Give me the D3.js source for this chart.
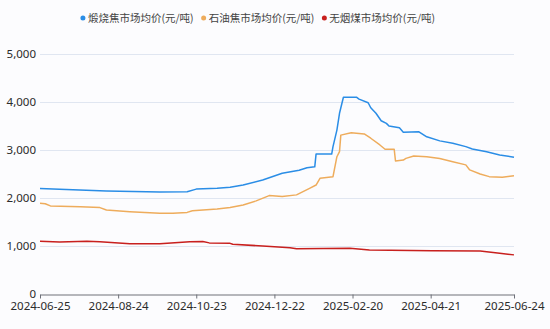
<!DOCTYPE html>
<html>
<head>
<meta charset="utf-8">
<script src="https://cdn.jsdelivr.net/npm/d3@7"></script>
<style>
  html, body { margin: 0; padding: 0; background: #fcfcfe; }
  svg { display: block; font-family: "Noto Sans", "Noto Sans CJK SC", sans-serif; }
</style>
</head>
<body>
<div id="container"></div>
<script>
// series names
const seriesNames = ["煅烧焦市场均价(元/吨)", "石油焦市场均价(元/吨)", "无烟煤市场均价(元/吨)"];
const seriesColors = ["#2a8de6", "#eeac5c", "#c8201e"];

// 煅烧焦 (calcined coke)
const calcinedData = [
  ["2024-06-25", 2200], ["2024-07-10", 2180], ["2024-08-15", 2145], ["2024-09-25", 2125],
  ["2024-10-16", 2130], ["2024-10-23", 2185], ["2024-11-08", 2205], ["2024-11-18", 2225],
  ["2024-11-28", 2270], ["2024-12-13", 2375], ["2024-12-28", 2515], ["2025-01-10", 2580],
  ["2025-01-16", 2630], ["2025-01-22", 2650], ["2025-01-23", 2915], ["2025-02-04", 2915],
  ["2025-02-05", 3070], ["2025-02-08", 3415], ["2025-02-10", 3765], ["2025-02-13", 4100],
  ["2025-02-23", 4100], ["2025-02-25", 4060], ["2025-03-04", 3985], ["2025-03-06", 3880],
  ["2025-03-10", 3765], ["2025-03-14", 3610], ["2025-03-18", 3555], ["2025-03-20", 3500],
  ["2025-03-28", 3465], ["2025-03-31", 3370], ["2025-04-12", 3380], ["2025-04-18", 3275],
  ["2025-04-28", 3190], ["2025-05-08", 3140], ["2025-05-18", 3070], ["2025-05-23", 3020],
  ["2025-06-03", 2965], ["2025-06-13", 2895], ["2025-06-24", 2850]
];

// 石油焦 (petroleum coke)
const petroleumData = [
  ["2024-06-25", 1890], ["2024-06-29", 1880], ["2024-07-03", 1835], ["2024-07-26", 1820],
  ["2024-08-10", 1800], ["2024-08-15", 1750], ["2024-09-02", 1715], ["2024-09-25", 1680],
  ["2024-10-05", 1680], ["2024-10-16", 1700], ["2024-10-20", 1735], ["2024-11-08", 1770],
  ["2024-11-18", 1800], ["2024-11-28", 1855], ["2024-12-08", 1940], ["2024-12-18", 2050],
  ["2024-12-28", 2030], ["2025-01-08", 2065], ["2025-01-18", 2200], ["2025-01-23", 2270],
  ["2025-01-26", 2410], ["2025-02-05", 2445], ["2025-02-08", 2860], ["2025-02-10", 2965],
  ["2025-02-11", 3310], ["2025-02-19", 3360], ["2025-03-01", 3335], ["2025-03-06", 3245],
  ["2025-03-13", 3105], ["2025-03-17", 3015], ["2025-03-24", 3015], ["2025-03-25", 2770],
  ["2025-03-31", 2790], ["2025-04-02", 2825], ["2025-04-08", 2875], ["2025-04-18", 2860],
  ["2025-04-28", 2825], ["2025-05-08", 2755], ["2025-05-18", 2690], ["2025-05-21", 2585],
  ["2025-05-29", 2500], ["2025-06-05", 2445], ["2025-06-15", 2430], ["2025-06-24", 2465]
];

// 无烟煤 (anthracite)
const anthraciteData = [
  ["2024-06-25", 1100], ["2024-07-10", 1085], ["2024-07-31", 1100], ["2024-08-10", 1090],
  ["2024-09-02", 1045], ["2024-09-25", 1045], ["2024-10-18", 1090], ["2024-10-28", 1095],
  ["2024-11-02", 1065], ["2024-11-18", 1055], ["2024-11-20", 1035], ["2024-12-13", 1000],
  ["2025-01-03", 965], ["2025-01-08", 945], ["2025-02-18", 955], ["2025-03-05", 915],
  ["2025-04-22", 900], ["2025-05-29", 895], ["2025-06-13", 850], ["2025-06-24", 815]
];

const xTickLabels = ["2024-06-25", "2024-08-24", "2024-10-23", "2024-12-22", "2025-02-20", "2025-04-21", "2025-06-24"];
const yTicks = [0, 1000, 2000, 3000, 4000, 5000];

const allSeries = [calcinedData, petroleumData, anthraciteData];

const width = 550, height = 329;
const margin = { top: 54, right: 36, bottom: 35, left: 40 };

const parse = d3.timeParse("%Y-%m-%d");

const svg = d3.select("#container").append("svg")
  .attr("width", width)
  .attr("height", height);

svg.append("rect").attr("width", width).attr("height", height).attr("fill", "#fcfcfe");

const x = d3.scaleTime()
  .domain([parse(xTickLabels[0]), parse(xTickLabels[xTickLabels.length - 1])])
  .range([margin.left, width - margin.right]);

const y = d3.scaleLinear()
  .domain([0, 5000])
  .range([height - margin.bottom, margin.top]);

// grid lines
svg.append("g")
  .selectAll("line")
  .data(yTicks.slice(1))
  .join("line")
  .attr("x1", margin.left)
  .attr("x2", width - margin.right)
  .attr("y1", d => y(d) + 0.5)
  .attr("y2", d => y(d) + 0.5)
  .attr("stroke", "#e0e6f1");

// y axis labels
svg.append("g")
  .attr("transform", `translate(${margin.left - 4},0)`)
  .call(d3.axisLeft(y).tickValues(yTicks).tickSize(0).tickPadding(0).tickFormat(d3.format(",")))
  .call(g => g.select(".domain").remove())
  .selectAll("text")
  .attr("font-size", 11.5)
  .attr("font-family", "Noto Sans, sans-serif")
  .attr("fill", "#2b2b2b");

// x axis
svg.append("g")
  .attr("transform", `translate(0,${y(0) + 0.5})`)
  .call(d3.axisBottom(x)
    .tickValues(xTickLabels.map(parse))
    .tickFormat(d3.timeFormat("%Y-%m-%d"))
    .tickSize(4)
    .tickSizeOuter(0)
    .tickPadding(3))
  .call(g => g.select(".domain").attr("stroke", "#6e7079"))
  .call(g => g.selectAll(".tick line").attr("stroke", "#6e7079"))
  .selectAll("text")
  .attr("font-size", 11.5)
  .attr("font-family", "Noto Sans, sans-serif")
  .attr("fill", "#2b2b2b");

// lines
const line = d3.line()
  .x(d => x(parse(d[0])))
  .y(d => y(d[1]));

svg.append("g")
  .selectAll("path")
  .data(allSeries)
  .join("path")
  .attr("d", line)
  .attr("fill", "none")
  .attr("stroke", (d, i) => seriesColors[i])
  .attr("stroke-width", 1.5)
  .attr("stroke-linejoin", "round");

// legend
const legend = svg.append("g").attr("transform", "translate(0,18)");
const items = legend.selectAll("g")
  .data(seriesNames)
  .join("g");

items.append("circle")
  .attr("r", 2.5)
  .attr("cy", 0)
  .attr("fill", (d, i) => seriesColors[i]);

items.append("text")
  .attr("x", 5)
  .attr("dy", "0.35em")
  .attr("font-size", 10.5)
  .attr("font-family", "Noto Sans CJK SC, sans-serif")
  .attr("fill", "#444")
  .text(d => d);

// lay out legend items centered
let widths = [];
items.each(function () {
  widths.push(this.querySelector("text").getComputedTextLength() + 5);
});
const gap = 10;
const total = d3.sum(widths) + gap * (widths.length - 1);
let cx = 259 - total / 2;
items.attr("transform", (d, i) => {
  const pos = cx;
  cx += widths[i] + gap;
  return `translate(${pos},0)`;
});
</script>
</body>
</html>
